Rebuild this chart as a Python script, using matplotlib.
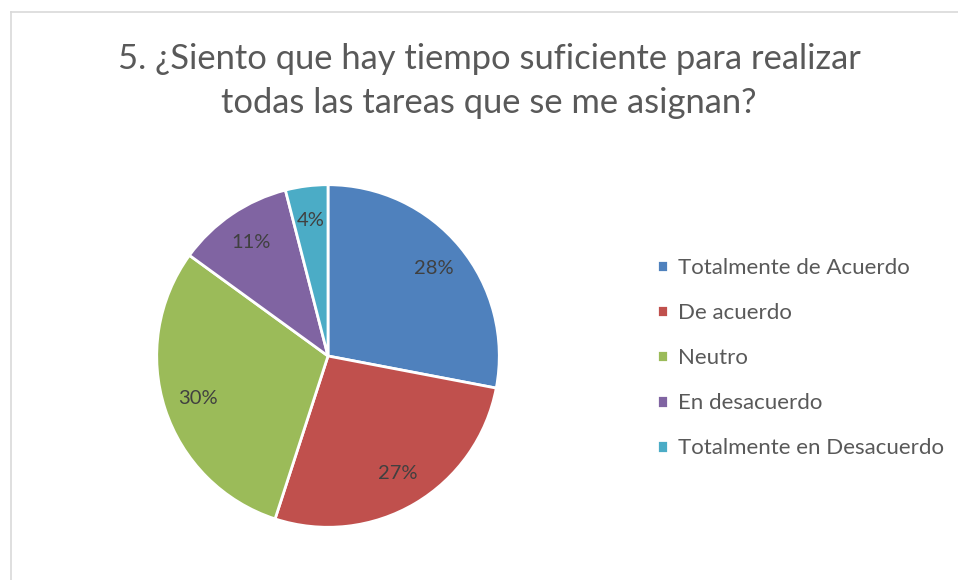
import matplotlib.pyplot as plt
from matplotlib.lines import Line2D

title = "5. ¿Siento que hay tiempo suficiente para realizar\ntodas las tareas que se me asignan?"
categories = ["Totalmente de Acuerdo", "De acuerdo", "Neutro", "En desacuerdo", "Totalmente en Desacuerdo"]
values = [28, 27, 30, 11, 4]
colors = ["#4F81BD", "#C0504D", "#9BBB59", "#8064A2", "#4BACC6"]

plt.rcParams['font.family'] = ['Lato', 'DejaVu Sans']

W, H = 958, 580
fig = plt.figure(figsize=(W / 100, H / 100), dpi=100)

# chart frame: only the top and left edges are visible
fx, fy = 10.5 / W, 1 - 11.5 / H
fig.add_artist(Line2D([fx, 1], [fy, fy], transform=fig.transFigure, color="#d9d9d9", lw=1.2))
fig.add_artist(Line2D([fx, fx], [0, fy], transform=fig.transFigure, color="#d9d9d9", lw=1.2))

cx, cy, r = 328, 356, 173
ax = fig.add_axes([(cx - r) / W, (H - cy - r) / H, 2 * r / W, 2 * r / H])
wedges, texts, autotexts = ax.pie(values, colors=colors, startangle=90, counterclock=False,
                                  autopct='%1.0f%%', pctdistance=0.8,
                                  wedgeprops=dict(edgecolor='white', linewidth=2),
                                  textprops=dict(color='#404040', fontsize=14.5))
ax.set_xlim(-1.01, 1.01)
ax.set_ylim(-1.01, 1.01)
ax.axis('off')

fig.text(489 / W, 1 - 81 / H, title, ha='center', va='center', fontsize=24.8,
         color='#595959', linespacing=1.45)

fig.legend(wedges, categories, loc='center left', bbox_to_anchor=(637 / W, 1 - 358 / H),
           frameon=False, fontsize=16, labelcolor='#595959', handlelength=0.5,
           handleheight=0.5, handletextpad=0.45, labelspacing=1.13)

fig.savefig("out.png", dpi=100)
